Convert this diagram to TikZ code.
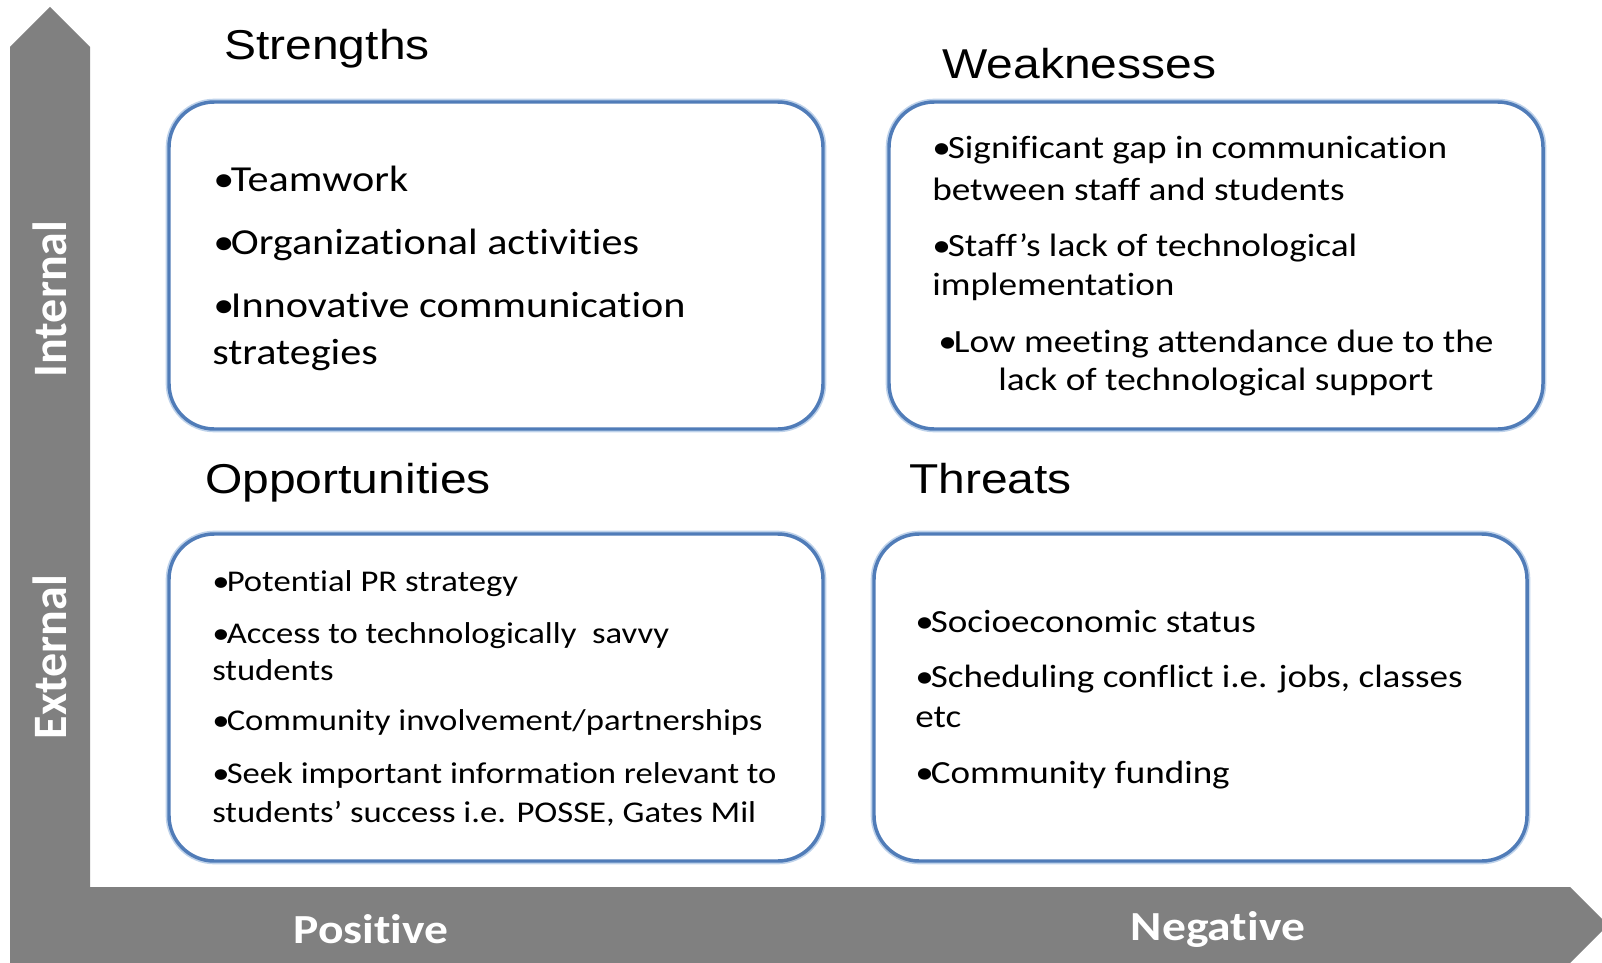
\documentclass[tikz,border=0pt]{standalone}
\usepackage{fontspec}
\usepackage{graphicx}
\setmainfont{Carlito}[RawFeature={-liga;-clig;-calt;-dlig}]
\newfontfamily\titlefont{Liberation Sans}
\definecolor{axisgray}{RGB}{128,128,128}
\definecolor{boxblue}{RGB}{80,124,184}
\definecolor{boxhalo}{RGB}{190,210,234}
\newcommand{\hs}[1]{\scalebox{1.15}[1]{#1}}
\newcommand{\bul}{•\kern-0.08em}
\begin{document}
\begin{tikzpicture}[x=0.75pt,y=-0.75pt,
  halo/.style={draw=boxhalo,line width=5pt,rounded corners=34pt},
  panel/.style={draw=boxblue,line width=2.6pt,rounded corners=34pt,fill=white},
  txt/.style={anchor=base west,inner sep=0pt,text=black},
  sbody/.style={txt,font=\fontsize{27.5}{32}\selectfont},
  wbody/.style={txt,font=\fontsize{24.3}{29}\selectfont},
  obody/.style={txt,font=\fontsize{22.6}{27}\selectfont},
  tbody/.style={txt,font=\fontsize{24.2}{29}\selectfont},
  heading/.style={txt,font=\titlefont\fontsize{31.3}{37}\selectfont},
  axislbl/.style={inner sep=0pt,text=white,font=\bfseries\fontsize{31}{37}\selectfont},
  vaxislbl/.style={axislbl,rotate=90,font=\bfseries\fontsize{36}{42}\selectfont}]
\useasboundingbox (0,0) rectangle (1602,963);
% axes (L-shaped double arrow)
\fill[axisgray] (10,963) -- (10,47) -- (50,7) -- (90,47) -- (90,887) -- (1570,887)
  -- (1602,919) -- (1602,931) -- (1570,963) -- cycle;
% boxes
\foreach \a/\b/\c/\d in {169/102/823/429, 889/102/1543/429, 169/534/823/861, 874/534/1527/861}{
  \draw[halo] (\a,\b) rectangle (\c,\d);
  \draw[panel] (\a,\b) rectangle (\c,\d);
}
% headings
\node[heading] (hS) at (224,60) {\hs{Strengths}};
\node[heading] (hW) at (942,79) {\hs{Weaknesses}};
\node[heading] (hO) at (205,493) {\hs{Opportunities}};
\node[heading] (hT) at (909,493) {\hs{Threats}};
% strengths
\node[sbody] (s1) at (213,191) {\hs{\bul Teamwork}};
\node[sbody] (s2) at (213,254) {\hs{\bul Organizational activities}};
\node[sbody] (s3) at (213,317) {\hs{\bul Innovative communication}};
\node[sbody] (s4) at (212,364) {\hs{strategies}};
% weaknesses
\node[wbody] (w1) at (932,159) {\hs{\bul Significant gap in communication}};
\node[wbody] (w2) at (932,200) {\hs{between staff and students}};
\node[wbody] (w3) at (932,256) {\hs{\bul Staff’s lack of technological}};
\node[wbody] (w4) at (932,295) {\hs{implementation}};
\node[wbody] (w5) at (938,352) {\hs{\bul Low meeting attendance due to the}};
\node[wbody] (w6) at (998,390) {\hs{lack of technological support}};
% opportunities
\node[obody] (o1) at (212,591) {\hs{\bul Potential PR strategy}};
\node[obody] (o2) at (212,643) {\hs{\bul Access to technologically \ savvy}};
\node[obody] (o3) at (212,680) {\hs{students}};
\node[obody] (o4) at (212,730) {\hs{\bul Community involvement/partnerships}};
\node[obody] (o5) at (212,783) {\hs{\bul Seek important information relevant to}};
\node[obody] (o6) at (212,822) {\hs{students’ success i.e. POSSE, Gates Mil}};
% threats
\node[tbody] (t1) at (915,632) {\hs{\bul Socioeconomic status}};
\node[tbody] (t2) at (915,687) {\hs{\bul Scheduling conflict i.e. jobs, classes}};
\node[tbody] (t3) at (915,727) {\hs{etc}};
\node[tbody] (t4) at (915,783) {\hs{\bul Community funding}};
% axis labels
\node[vaxislbl] (int) at (50,299) {Internal};
\node[vaxislbl] (ext) at (50,657) {External};
\node[axislbl] (pos) at (371,929) {\hs{Positive}};
\node[axislbl] (neg) at (1218,929) {\hs{Negative}};
\end{tikzpicture}
\end{document}
